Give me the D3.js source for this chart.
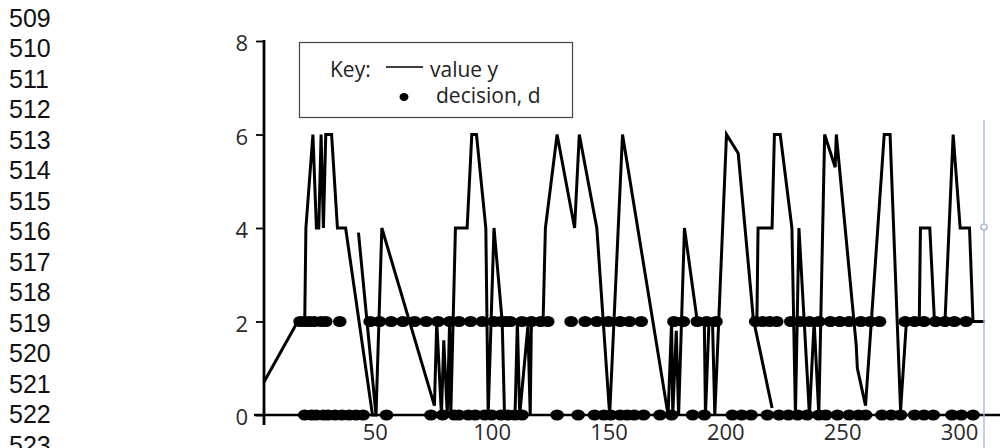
<!DOCTYPE html>
<html>
<head>
<meta charset="utf-8">
<script src="https://cdn.jsdelivr.net/npm/d3@7"></script>
<style>
  html, body { margin: 0; padding: 0; background: #fff; }
  svg { display: block; }
</style>
</head>
<body>
<div id="chart"></div>
<script>
// Line numbers printed down the left margin of the page
const lineNumbers = d3.range(509, 524);

// Axis ticks
const yTicks = [0, 2, 4, 6, 8];
const xTicks = [50, 100, 150, 200, 250, 300];

// value y, in drawing order (time step, value)
const valueT = [2.5, 17, 20, 20.5, 23.5, 25, 26, 27, 28, 29, 31.5, 34, 37.5, 49, 50.5, 43, 50.5, 53,
    75.5, 76.5, 78.5, 79.5, 81, 82, 82.5, 84.5, 89.5, 91.5, 93.5, 97.5, 98.5, 101, 104.5, 105.5,
    110, 111, 112, 115.5, 116.5, 117, 122, 123, 128, 135.5, 137.5, 145, 150.5, 156, 175.5,
    177, 177.5, 179, 180, 182.5, 188, 191, 191.5, 193, 194.5, 195.5, 200.5, 205.5, 212, 220, 212,
    213.5, 214, 220, 221, 223.5, 228.5, 230, 231.5, 236, 238, 240, 242.5, 247, 247.5, 256, 256.5,
    260, 268, 270.5, 275, 277.5, 283, 283.5, 287.5, 289.5, 294, 297.5, 300.5, 304.5, 306, 311];
const valueY = [0.7, 2, 2, 4, 6, 4, 4, 6, 4, 6, 6, 4, 4, 0, 0, 3.9, 0, 4,
    0.2, 2, 0, 1.6, 0, 2, 0, 4, 4, 6, 6, 4, 0, 4, 2, 0,
    0, 2, 0, 1.9, 0, 2, 2, 4, 6, 4, 6, 4, 0, 6, 0,
    2, 0, 1.8, 0, 4, 2, 2, 0, 2, 2, 0, 6, 5.6, 2.05, 0.15, 2.05,
    2, 4, 4, 6, 6, 4, 0, 4, 0, 2, 0, 6, 5.3, 6, 1.5, 1.0,
    0.2, 6, 6, 0.1, 2, 2, 4, 4, 2, 2, 6, 4, 4, 2, 2];

// decision d: time steps where d = 2 and where d = 0
const decisionTwoT = [18, 20, 22, 24, 27, 29, 35, 48, 52, 57, 62, 67, 72, 77, 82, 86, 91, 96, 101,
    104, 106, 108, 113, 117, 121, 124, 134, 140, 145, 150, 155, 159, 164, 178, 182, 188, 192, 196,
    213, 216, 219, 222, 228, 232, 236, 240, 245, 249, 253, 258, 262, 266, 277, 281, 285, 290, 294,
    298, 303];
const decisionZeroT = [20, 23, 25, 28, 30, 33, 36, 39, 42, 45, 55, 74, 79, 84, 86, 90, 93, 97, 100,
    104, 107, 110, 113, 128, 137, 144, 148, 151, 155, 158, 161, 165, 172, 177, 186, 191, 203, 207,
    211, 218, 223, 227, 231, 235, 240, 243, 248, 253, 257, 260, 267, 271, 275, 281, 285, 289, 297,
    301, 306];

const W = 1000, H = 448;
const axisX = 264;

const svg = d3.select('#chart').append('svg')
    .attr('width', W).attr('height', H);

// Numeración de líneas
svg.append('g').selectAll('text')
    .data(lineNumbers)
    .join('text')
    .attr('x', 9)
    .attr('y', (d, i) => 26.7 + i * 30.5)
    .attr('font-family', 'Liberation Sans, Arial, sans-serif')
    .attr('font-size', '25px')
    .attr('fill', '#111')
    .text(d => d);

// Escalas
const x = d3.scaleLinear().domain([0, 300]).range([258, 959]);
const y = d3.scaleLinear().domain([0, 8]).range([415, 41]);

// Eje Y
const yAxis = svg.append('g')
    .attr('transform', `translate(${axisX},0)`)
    .call(d3.axisLeft(y).tickValues(yTicks).tickSize(8).tickSizeOuter(0).tickPadding(8));
yAxis.select('.domain').remove();
yAxis.selectAll('.tick line').attr('stroke', '#000').attr('stroke-width', 1.8);
yAxis.selectAll('.tick text')
    .style('font-family', 'Open Sans, sans-serif')
    .style('font-size', '22px')
    .attr('fill', '#2a2a2a')
    .attr('dy', '0.45em');
svg.append('line')
    .attr('x1', axisX).attr('x2', axisX)
    .attr('y1', y(8) - 1).attr('y2', y(0) + 10)
    .attr('stroke', '#000').attr('stroke-width', 2.8);

// Eje X
const xAxis = svg.append('g')
    .attr('transform', `translate(0,${y(0)})`)
    .call(d3.axisBottom(x).tickValues(xTicks).tickSize(0).tickPadding(9));
xAxis.select('.domain').remove();
xAxis.selectAll('.tick text')
    .style('font-family', 'Open Sans, sans-serif')
    .style('font-size', '22px')
    .attr('fill', '#2a2a2a');
svg.append('line')
    .attr('x1', axisX - 10).attr('x2', W)
    .attr('y1', y(0)).attr('y2', y(0))
    .attr('stroke', '#000').attr('stroke-width', 2.6);

// Línea de valor y
const points = valueT.map((t, i) => ({ t: t, v: valueY[i] }));
const line = d3.line()
    .x(d => x(d.t))
    .y(d => y(d.v));

svg.append('path')
    .datum(points)
    .attr('fill', 'none')
    .attr('stroke', '#000')
    .attr('stroke-width', 3)
    .attr('stroke-linejoin', 'miter')
    .attr('d', line);

// Puntos de decisión d
const dots = decisionTwoT.map(t => ({ t: t, d: 2 }))
    .concat(decisionZeroT.map(t => ({ t: t, d: 0 })));

svg.append('g').selectAll('ellipse')
    .data(dots)
    .join('ellipse')
    .attr('cx', d => x(d.t))
    .attr('cy', d => y(d.d))
    .attr('rx', 6.8)
    .attr('ry', 5.6)
    .attr('fill', '#000');

// Leyenda
const legend = svg.append('g');
legend.append('rect')
    .attr('x', 299.5).attr('y', 42.5)
    .attr('width', 273).attr('height', 75)
    .attr('fill', '#fff')
    .attr('stroke', '#444').attr('stroke-width', 1.2);
legend.append('text')
    .attr('x', 330).attr('y', 77)
    .attr('font-family', 'Open Sans, sans-serif').attr('font-size', '21px').attr('fill', '#222')
    .text('Key:');
legend.append('line')
    .attr('x1', 386).attr('x2', 423).attr('y1', 67).attr('y2', 67)
    .attr('stroke', '#000').attr('stroke-width', 1.6);
legend.append('text')
    .attr('x', 430).attr('y', 77)
    .attr('font-family', 'Open Sans, sans-serif').attr('font-size', '21px').attr('fill', '#222')
    .text('value y');
legend.append('ellipse')
    .attr('cx', 404).attr('cy', 97).attr('rx', 4.5).attr('ry', 4)
    .attr('fill', '#000');
legend.append('text')
    .attr('x', 436).attr('y', 103)
    .attr('font-family', 'Open Sans, sans-serif').attr('font-size', '21px').attr('fill', '#222')
    .text('decision, d');

// Marcador de selección (línea azul clara a la derecha)
svg.append('line')
    .attr('x1', 984).attr('x2', 984).attr('y1', 120).attr('y2', H)
    .attr('stroke', '#a9bcd4').attr('stroke-width', 1.4);
svg.append('circle')
    .attr('cx', 984).attr('cy', 227).attr('r', 3)
    .attr('fill', '#fff').attr('stroke', '#8fa8c8').attr('stroke-width', 1.2);
</script>
</body>
</html>
